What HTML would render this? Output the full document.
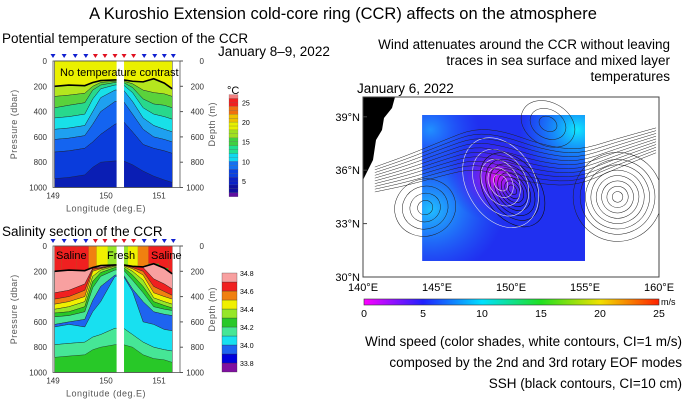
<!DOCTYPE html>
<html><head><meta charset="utf-8"><style>
html,body{margin:0;padding:0;background:#fff}
svg{display:block;font-family:"Liberation Sans",sans-serif}
</style></head><body>
<svg id="fig" width="685" height="402" viewBox="0 0 685 402" xmlns="http://www.w3.org/2000/svg">
<defs>
<linearGradient id="cbWind" x1="0" x2="1" y1="0" y2="0">
<stop offset="0" stop-color="#ff00ff"/><stop offset="0.2" stop-color="#2020ff"/><stop offset="0.4" stop-color="#00e0ff"/><stop offset="0.6" stop-color="#20e020"/><stop offset="0.8" stop-color="#f0e000"/><stop offset="1" stop-color="#ff2000"/>
</linearGradient>
<radialGradient id="wMag" cx="0.45" cy="0.43" r="0.3"><stop offset="0" stop-color="#e010f0"/><stop offset="0.4" stop-color="#7020f0" stop-opacity="0.8"/><stop offset="1" stop-color="#2020f0" stop-opacity="0"/></radialGradient>
<radialGradient id="wCy1" cx="0.95" cy="0.1" r="0.35"><stop offset="0" stop-color="#10e8ff"/><stop offset="1" stop-color="#10a0ff" stop-opacity="0"/></radialGradient>
<radialGradient id="wCy2" cx="0.05" cy="0.65" r="0.45"><stop offset="0" stop-color="#20c0ff"/><stop offset="1" stop-color="#2080ff" stop-opacity="0"/></radialGradient>
<radialGradient id="wCy3" cx="0.05" cy="0.1" r="0.3"><stop offset="0" stop-color="#2090ff"/><stop offset="1" stop-color="#2060ff" stop-opacity="0"/></radialGradient>
</defs>
<text x="343" y="19" font-size="16.5" text-anchor="middle">A Kuroshio Extension cold-core ring (CCR) affects on the atmosphere</text>
<text x="2" y="43" font-size="13.5">Potential temperature section of the CCR</text>
<text x="218" y="56" font-size="13.5">January 8–9, 2022</text>
<text x="2" y="236" font-size="13.5">Salinity section of the CCR</text>
<text x="670" y="49" font-size="13.5" text-anchor="end">Wind attenuates around the CCR without leaving</text>
<text x="670" y="65" font-size="13.5" text-anchor="end">traces in sea surface and mixed layer</text>
<text x="670" y="81" font-size="13.5" text-anchor="end">temperatures</text>
<text x="357" y="93" font-size="13.5">January 6, 2022</text>
<text x="682" y="346" font-size="13.5" text-anchor="end">Wind speed (color shades, white contours, CI=1 m/s)</text>
<text x="682" y="367" font-size="13.5" text-anchor="end">composed by the  2nd  and  3rd  rotary EOF modes</text>
<text x="682" y="388" font-size="13.5" text-anchor="end">SSH (black contours, CI=10 cm)</text>
<g id="tempPanel"></g>
<g id="salPanel"></g>
<g id="mapPanel"></g>
</svg>
<script>
// ---- section data ----
const stationLon = [149.03,149.3,149.6,149.75,149.9,150.17,150.33,150.5,150.7,150.9,151.1,151.25];
const markerLon = [149.0,149.21,149.42,149.62,149.8,149.98,150.17,150.34,150.52,150.72,150.92,151.1,151.27];
const markerWarm = [0,0,0,0,1,1,1,1,1,0,0,0,0];
const mldDepth = [200,190,195,170,155,150,150,160,165,140,175,220];
const iso16 = [280,270,255,200,170,160,160,180,230,250,260,280];
const iso14 = [370,350,330,230,190,170,170,210,300,340,350,370];
const iso12 = [450,440,420,300,220,190,190,250,370,420,440,460];
const iso10 = [540,530,510,400,290,230,230,320,450,510,540,560];
const iso8 = [620,610,590,500,400,320,320,420,540,600,620,640];
const iso6 = [720,710,690,640,580,500,480,560,660,690,710,730];
const iso4 = [930,920,900,840,800,790,790,820,870,910,940,960];
const salPink = [370,350,300,175,170,150,150,165,170,260,300,340];
const salRed = [420,400,350,185,175,152,152,170,200,320,360,390];
const salOrange = [460,440,400,200,180,155,155,180,230,370,400,420];
const salYellow = [500,480,440,240,190,160,160,200,270,410,440,460];
const salLgreen = [530,520,480,280,210,170,170,230,320,440,470,490];
const salGreen = [560,550,520,330,240,190,190,270,370,480,500,510];
const salTeal = [620,600,580,430,320,230,230,340,440,520,540,550];
const salBlue = [640,620,640,520,440,240,240,360,600,620,660,670];
const salCyan = [780,770,760,720,700,650,650,700,760,800,820,830];
const salTeal2 = [880,870,860,820,800,780,780,800,860,890,900,920];
const salMLColor = ['#f02020','#f02020','#f02020','#f08010','#f0f000','#96e628','#96e628','#f0f000','#f08010','#f02020','#f02020','#f02020'];
const tempTicks = [0,200,400,600,800,1000];
const lonTicks = [149,150,151];
const tempCbLevels = [1,2,3,4,5,6,7,8,9,10,11,12,13,14,15,16,17,18,19,20,21,22,23,24,25,26];
const tempCbLabels = [5,10,15,20,25];
const salCbLevels = [33.7,33.8,33.9,34.0,34.1,34.2,34.3,34.4,34.5,34.6,34.7];
const salCbLabels = [33.8,34.0,34.2,34.4,34.6,34.8];
// ---- map data ----
const latTicks = [30,33,36,39];
const mapLonTicks = [140,145,150,155,160];
const windTicks = [0,5,10,15,20,25];
const ccrCenter = [150.1, 34.9];
const ccrRadii = [0.3,0.55,0.8,1.05,1.3,1.6,1.9,2.3];
const windCenter = [149.3, 35.3];
const windRadii = [0.5,0.9,1.4,2.0,2.7];
const eddyEast = [157.2, 34.5];
const eddyEastRadii = [0.3,0.6,0.9,1.2,1.5,1.8,2.1,2.5];
const eddyWest = [144.2, 33.9];
const eddyWestRadii = [0.4,0.8,1.2,1.6];
const eddyNorth = [152.5, 38.6];
const eddyNorthRadii = [0.4,0.8,1.2];
const frontLon = [140.8,143,145.5,147.5,149.5,152,154.5,157,159.8];
const frontLat = [35.4,35.9,36.6,37.1,36.8,36.2,36.0,36.8,37.6];

const NS="http://www.w3.org/2000/svg";
function mk(tag,attrs,parent){const e=document.createElementNS(NS,tag);for(const k in attrs)e.setAttribute(k,attrs[k]);parent.appendChild(e);return e;}

function tempColor(t){
  const stops=[[0,'#6010a0'],[2,'#1010a0'],[4,'#0a20c8'],[6,'#0a40e0'],[8,'#1470f0'],[10,'#10d8f0'],[12,'#20e090'],[14,'#40d040'],[16,'#a0e020'],[18,'#e8f000'],[20,'#f0c000'],[22,'#f07010'],[24,'#f02020'],[26,'#f08080']];
  let c=stops[0][1];for(const s of stops){if(t>=s[0])c=s[1];}return c;}

function section(g,top,isTemp){
  const x=l=>53+(l-149)*53, y=p=>top+p*0.1265;
  function poly(upper,lower,color,name){
    let d='M'+stationLon.map((l,i)=>x(l)+','+y(upper?upper[i]:0)).join(' L');
    for(let i=stationLon.length-1;i>=0;i--) d+=' L'+x(stationLon[i])+','+y(lower?lower[i]:1000);
    const p=mk('path',{d:d+'Z',fill:color,stroke:'#222','stroke-width':0.4},g);
    
    
  }
  if(isTemp){
    poly(null,null,'#0a1eb4','temp-band-cold');
    const bands=[[null,mldDepth,'#eaf000'],[mldDepth,iso16,'#b4e61e'],[iso16,iso14,'#5ad23c'],[iso14,iso12,'#28d88c'],[iso12,iso10,'#18e0e8'],[iso10,iso8,'#1ea0f0'],[iso8,iso6,'#1464f0'],[iso6,iso4,'#0a3cdc']];
    bands.forEach((b,i)=>poly(b[0],b[1],b[2],'temp-band-'+i));
  } else {
    poly(null,null,'#28c828','sal-band-deep');
    stationLon.forEach((l,i)=>{
      const x0=i==0?x(l):(x(stationLon[i-1])+x(l))/2, x1=i==stationLon.length-1?x(l):(x(l)+x(stationLon[i+1]))/2;
      const r=mk('rect',{x:x0,y:y(0),width:x1-x0,height:y(mldDepth[i])-y(0),fill:salMLColor[i]},g);
      
      
    });
    const bands=[[mldDepth,salPink,'#f8a0a0'],[salPink,salRed,'#f02020'],[salRed,salOrange,'#f08010'],[salOrange,salYellow,'#f0f000'],[salYellow,salLgreen,'#96e628'],[salLgreen,salGreen,'#28c828'],[salGreen,salTeal,'#46e696'],[salTeal,salBlue,'#1e64f0'],[salBlue,salCyan,'#18e0f0'],[salCyan,salTeal2,'#46e696']];
    bands.forEach((b,i)=>poly(b[0],b[1],b[2],'sal-band-'+i));
  }
  const ml=mk('path',{d:'M'+stationLon.map((l,i)=>x(l)+','+y(mldDepth[i])).join(' L'),fill:'none',stroke:'#000','stroke-width':1.6},g);
  
  
  const gap=mk('rect',{x:x(150.2),y:y(0)-1,width:x(150.34)-x(150.2),height:y(1000)-y(0)+2,fill:'#fff'},g);
  
  
  const fr=mk('rect',{x:53,y:y(0),width:127,height:y(1000)-y(0),fill:'none',stroke:'#555','stroke-width':0.8},g);
  
  
  tempTicks.forEach(p=>{
    const t1=mk('text',{x:47,y:y(p)+3,'font-size':8,'text-anchor':'end',fill:'#333'},g);t1.textContent=p;
    
    
    const t2=mk('text',{x:204,y:y(p)+3,'font-size':8,'text-anchor':'end',fill:'#333'},g);t2.textContent=p;
    
    
    mk('line',{x1:180,x2:183,y1:y(p),y2:y(p),stroke:'#555'},g);
  });
  lonTicks.forEach(l=>{
    const t=mk('text',{x:x(l),y:y(1000)+11,'font-size':8,'text-anchor':'middle',fill:'#333'},g);t.textContent=l;
    
    
  });
  const xl=mk('text',{x:106,y:y(1000)+24,'font-size':9,'text-anchor':'middle',fill:'#555','letter-spacing':'0.5'},g);xl.textContent='Longitude (deg.E)';
  
  
  const cy=y(500);
  const yl=mk('text',{x:17,y:cy,'font-size':9,'text-anchor':'middle',fill:'#555',transform:`rotate(-90 17 ${cy})`,'letter-spacing':'0.5'},g);yl.textContent='Pressure (dbar)';
  
  
  const yr=mk('text',{x:215,y:cy,'font-size':9,'text-anchor':'middle',fill:'#555',transform:`rotate(-90 215 ${cy})`,'letter-spacing':'0.5'},g);yr.textContent='Depth (m)';
  
  
  markerLon.forEach((l,i)=>{
    const m=mk('path',{d:`M${x(l)-2.5},${y(0)-7} L${x(l)+2.5},${y(0)-7} L${x(l)},${y(0)-3}Z`,fill:markerWarm[i]?'#e01020':'#1020d0'},g);
    
    
  });
}
const tg=document.getElementById('tempPanel');
section(tg,61,true);
const lbl=mk('text',{x:60,y:76,'font-size':11},tg);lbl.textContent='No temperature contrast';


const tcY=t=>181-(t-5)*3.93;
tempCbLevels.forEach(t=>{
  const r=mk('rect',{x:229,y:tcY(t+1),width:9,height:3.93,fill:tempColor(t),stroke:'#555','stroke-width':0.2},tg);
  
  
});
tempCbLabels.forEach(t=>{
  const tx=mk('text',{x:242,y:tcY(t)+3,'font-size':7},tg);tx.textContent=t;
  
  
});
const deg=mk('text',{x:227,y:94,'font-size':11},tg);deg.textContent='°C';



const sg=document.getElementById('salPanel');
section(sg,246,false);
[['Saline',56,'sal-label-left'],['Fresh',107,'sal-label-center'],['Saline',151,'sal-label-right']].forEach(a=>{
  const t=mk('text',{x:a[1],y:259,'font-size':11},sg);t.textContent=a[0];
  
  
});
const salCols=['#8010a0','#0000dc','#1e64f0','#18e0f0','#46e696','#28c828','#96e628','#f0f000','#f08010','#f02020','#f8a0a0'];
const scY=s=>363-(s-33.8)*90;
salCbLevels.forEach((s,i)=>{
  const r=mk('rect',{x:222,y:scY(s+0.1),width:15,height:9,fill:salCols[i],stroke:'#333','stroke-width':0.3},sg);
  
  
});
salCbLabels.forEach(s=>{
  const t=mk('text',{x:240,y:scY(s)+3,'font-size':7},sg);t.textContent=s.toFixed(1);
  
  
});

// ---- map ----
const mg=document.getElementById('mapPanel');
const mx=l=>363+(l-140)*14.8, my=la=>277-(la-30)*17.8;
const bx0=mx(144), bx1=mx(155), by0=my(39.1), by1=my(30.9);
const base=mk('rect',{x:bx0,y:by0,width:bx1-bx0,height:by1-by0,fill:'#2030f0'},mg);


['wCy1','wCy2','wCy3','wMag'].forEach(id=>mk('rect',{x:bx0,y:by0,width:bx1-bx0,height:by1-by0,fill:`url(#${id})`},mg));
const land=mk('path',{d:`M363,97 L395,97 L392,108 L384,118 L382,130 L376,140 L373,160 L367,172 L363,180 Z`,fill:'#000'},mg);


const clip=mk('clipPath',{id:'mapClip'},mg);
mk('rect',{x:363,y:97,width:296,height:180},clip);
const cg=mk('g',{'clip-path':'url(#mapClip)'},mg);
function ell(c,r,ang,ratio,col,name,w){
  const e=mk('ellipse',{cx:mx(c[0]),cy:my(c[1]),rx:r*14.8*ratio,ry:r*17.8,fill:'none',stroke:col,'stroke-width':w,transform:`rotate(${ang} ${mx(c[0])} ${my(c[1])})`},cg);
  
  
}
ccrRadii.forEach(r=>ell(ccrCenter,r,-35,0.8,'#111','ssh-contour',0.6));
eddyEastRadii.forEach(r=>ell(eddyEast,r,20,1.2,'#222','ssh-contour',0.5));
eddyWestRadii.forEach(r=>ell(eddyWest,r,-20,1.3,'#222','ssh-contour',0.5));
eddyNorthRadii.forEach(r=>ell(eddyNorth,r,30,1.6,'#222','ssh-contour',0.5));
windRadii.forEach(r=>ell(windCenter,r,-30,0.85,'#e8e8e8','wind-contour',0.6));
[-4,-3,-2,-1,0,1,2,3,4,5].forEach(k=>{
  const pts=frontLon.map((l,i)=>[mx(l),my(frontLat[i]+k*0.28*(1-Math.abs(i-4)/9))]);
  let d='M'+pts[0].join(',');
  for(let i=1;i<pts.length;i++){const m=[(pts[i-1][0]+pts[i][0])/2,(pts[i-1][1]+pts[i][1])/2];d+=` Q${pts[i-1][0]},${pts[i-1][1]} ${m[0]},${m[1]}`;}
  d+=' L'+pts[pts.length-1].join(',');
  const p=mk('path',{d,fill:'none',stroke:'#222','stroke-width':0.5},cg);
  
  
});
const mf=mk('rect',{x:363,y:97,width:296,height:180,fill:'none',stroke:'#444','stroke-width':1},mg);


latTicks.forEach(la=>{
  const t=mk('text',{x:360,y:my(la)+4,'font-size':11,'text-anchor':'end'},mg);t.textContent=la+'°N';
  
  
  mk('line',{x1:363,x2:367,y1:my(la),y2:my(la),stroke:'#444'},mg);
});
mapLonTicks.forEach(l=>{
  const t=mk('text',{x:mx(l),y:291,'font-size':11,'text-anchor':'middle'},mg);t.textContent=l+'°E';
  
  
});
const wx=v=>364+v*11.8;
const cb=mk('rect',{x:364,y:299,width:295,height:6,fill:'url(#cbWind)',stroke:'#333','stroke-width':0.6},mg);


windTicks.forEach(v=>{
  const t=mk('text',{x:wx(v),y:317,'font-size':10.5,'text-anchor':'middle'},mg);t.textContent=v;
  
  
});
const ms=mk('text',{x:661,y:305,'font-size':9},mg);ms.textContent='m/s';


</script>
</body></html>
